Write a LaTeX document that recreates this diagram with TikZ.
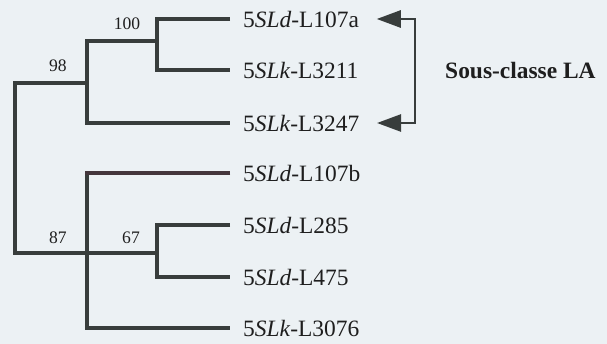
\documentclass[tikz,border=0pt]{standalone}
\usepackage{fontspec}
\setmainfont{Liberation Serif}
\usepackage{xcolor}
\usetikzlibrary{arrows.meta,calc,positioning}
\definecolor{paper}{RGB}{236,241,244}
\definecolor{stem}{RGB}{56,61,60}
\definecolor{stemred}{RGB}{68,54,60}
\definecolor{ink}{RGB}{30,30,30}
\tikzset{
  leaf/.style={anchor=west, inner xsep=11pt, inner ysep=0pt, text=ink, font=\fontsize{20}{24}\selectfont},
  boot/.style={text=ink, inner sep=0pt, font=\fontsize{15}{18}\selectfont},
  group/.style={anchor=west, inner sep=0pt, text=ink, font=\fontsize{20}{24}\selectfont\bfseries},
  branch/.style={line width=4.2pt, draw=stem, line join=miter},
  pointer/.style={{Triangle[length=0.72cm,width=0.52cm]}-{Triangle[length=0.72cm,width=0.52cm]}, line width=1.5pt, draw=stem}
}

\begin{document}
\begin{tikzpicture}[x=0.03cm, y=-0.03cm]
  \fill[paper] (0,0) rectangle (607,344);
  \useasboundingbox (0,0) rectangle (607,344);

  % leaves
  \node[leaf] (l107a) at (230,19) {5\textit{SLd}-L107a};
  \node[leaf] (l3211) at (230,70) {5\textit{SLk}-L3211};
  \node[leaf] (l3247) at (230,123) {5\textit{SLk}-L3247};
  \node[leaf] (l107b) at (230,173) {5\textit{SLd}-L107b};
  \node[leaf] (l285) at (230,225) {5\textit{SLd}-L285};
  \node[leaf] (l475) at (230,277) {5\textit{SLd}-L475};
  \node[leaf] (l3076) at (230,328) {5\textit{SLk}-L3076};

  % inner nodes
  \coordinate (n100) at (157,41);
  \coordinate (n98) at (87,83);
  \coordinate (root) at (15,168);
  \coordinate (n87) at (87,253);
  \coordinate (n67) at (157,253);

  \draw[branch] (l107a.west) -| (n100) |- (l3211.west);
  \draw[branch] (n100) -| (n98) |- (l3247.west);
  \draw[branch] (n98) -| (root) |- (n87);
  \draw[branch] (l107b.west) -| (n87) |- (l3076.west);
  \draw[branch, draw=stemred] (l107b.west) -- ($(n87 |- l107b.west)+(-2.1pt,0)$);
  \draw[branch] (n87) -- (n67);
  \draw[branch] (l285.west) -| (n67) |- (l475.west);

  % bootstrap values
  \node[boot] (b100) at (127,24) {100};
  \node[boot] (b98) at (58,66) {98};
  \node[boot] (b87) at (58,238) {87};
  \node[boot] (b67) at (131,238) {67};

  % subclass bracket
  \coordinate (bar) at (415,71);
  \node[group] (sous) at (445,71) {Sous-classe LA};
  \draw[pointer] ([xshift=4pt]l107a.east) -| (bar) |- ([xshift=4pt]l3247.east);
\end{tikzpicture}
\end{document}
